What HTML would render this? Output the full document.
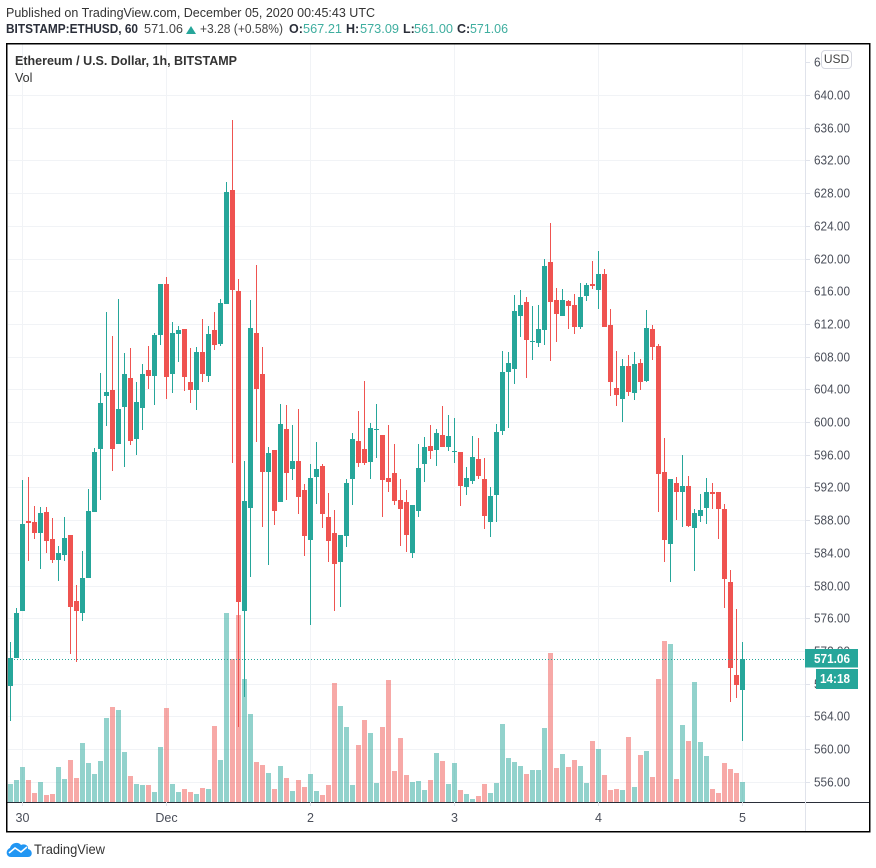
<!DOCTYPE html>
<html lang="en">
<head>
<meta charset="utf-8">
<title>Ethereum / U.S. Dollar, 1h, BITSTAMP</title>
<style>
html,body{margin:0;padding:0;background:#fff;width:876px;height:868px;overflow:hidden}
svg{display:block;font-family:"Liberation Sans",sans-serif}
</style>
</head>
<body>
<svg id="chart" width="876" height="868" viewBox="0 0 876 868" xmlns="http://www.w3.org/2000/svg">
  <rect x="0" y="0" width="876" height="868" fill="#ffffff"/>
  <g id="grid"></g>
  <g id="vols"></g>
  <g id="candles"></g>
  <line id="lastLine" x1="8" x2="805" stroke="#26a69a" stroke-width="1" stroke-dasharray="1 2"/>
  <line x1="7" x2="870" y1="802.5" y2="802.5" stroke="#2a2e39" stroke-width="1"/>
  <line x1="805.5" x2="805.5" y1="44" y2="832" stroke="#e0e3eb" stroke-width="1"/>
  <g id="priceAxis"></g>
  <g id="timeAxis"></g>

  <text x="6" y="17" font-size="12.5" fill="#333" textLength="369" lengthAdjust="spacingAndGlyphs">Published on TradingView.com, December 05, 2020 00:45:43 UTC</text>
  <text x="6" y="33" font-size="12.5" font-weight="bold" fill="#2a2e39" textLength="132" lengthAdjust="spacingAndGlyphs">BITSTAMP:ETHUSD, 60</text>
  <text x="144" y="33" font-size="12.5" fill="#444" textLength="39" lengthAdjust="spacingAndGlyphs">571.06</text>
  <polygon points="186,34 196,34 191,26" fill="#26a69a"/>
  <text x="200" y="33" font-size="12.5" fill="#444" textLength="83" lengthAdjust="spacingAndGlyphs">+3.28 (+0.58%)</text>
  <text x="289" y="33" font-size="12.5" font-weight="bold" fill="#2a2e39">O:</text>
  <text x="303" y="33" font-size="12.5" fill="#3fae9f" textLength="39" lengthAdjust="spacingAndGlyphs">567.21</text>
  <text x="346" y="33" font-size="12.5" font-weight="bold" fill="#2a2e39">H:</text>
  <text x="360" y="33" font-size="12.5" fill="#3fae9f" textLength="39" lengthAdjust="spacingAndGlyphs">573.09</text>
  <text x="403" y="33" font-size="12.5" font-weight="bold" fill="#2a2e39">L:</text>
  <text x="414" y="33" font-size="12.5" fill="#3fae9f" textLength="39" lengthAdjust="spacingAndGlyphs">561.00</text>
  <text x="457" y="33" font-size="12.5" font-weight="bold" fill="#2a2e39">C:</text>
  <text x="470" y="33" font-size="12.5" fill="#3fae9f" textLength="38" lengthAdjust="spacingAndGlyphs">571.06</text>

  <text x="15" y="65" font-size="12.5" font-weight="bold" fill="#333" textLength="222" lengthAdjust="spacingAndGlyphs">Ethereum / U.S. Dollar, 1h, BITSTAMP</text>
  <text x="15" y="82" font-size="12.5" fill="#333">Vol</text>

  <g>
    <rect x="821.5" y="50.5" width="30" height="18" rx="3.5" fill="#fff" stroke="#d6d8e0"/>
    <text x="836.5" y="63" font-size="12" fill="#444" text-anchor="middle">USD</text>
  </g>

  <rect x="805" y="649" width="53" height="18.5" fill="#26a69a"/>
  <text x="850" y="663" font-size="12.5" font-weight="bold" fill="#fff" text-anchor="end" textLength="36" lengthAdjust="spacingAndGlyphs">571.06</text>
  <rect x="816" y="667.5" width="42" height="2" fill="#fff"/>
  <rect x="816" y="669" width="42" height="20" fill="#26a69a"/>
  <text x="850" y="683" font-size="12.5" font-weight="bold" fill="#fff" text-anchor="end" textLength="30" lengthAdjust="spacingAndGlyphs">14:18</text>

  <rect x="6.75" y="43.75" width="863" height="788" fill="none" stroke="#000" stroke-width="1.5"/>

  <g>
    <path d="M11 857 C6 857 5 850 10 848 C11 843 18 841 21 845 C25 843 29 846 28 849 C33 850 33 857 28 857 Z" fill="#2196f3"/>
    <polyline points="9,853 15,848 21,852 27,847" fill="none" stroke="#fff" stroke-width="1.6"/>
    <text x="34" y="854" font-size="14" fill="#333" textLength="71" lengthAdjust="spacingAndGlyphs">TradingView</text>
  </g>
</svg>
<script>
const opens = [567.7,571.1,576.88,587.9,587.77,586.42,589.0,585.69,583.12,583.73,
586.18,578.1,576.64,580.92,589.0,596.7,603.18,603.92,597.31,601.84,
605.33,597.95,601.7,606.32,605.62,610.7,616.93,605.87,610.82,611.44,
604.96,603.89,608.63,605.62,611.32,609.54,614.41,628.4,616.06,576.9,
589.49,610.95,605.83,593.86,596.59,590.23,599.15,594.27,595.24,591.7,
585.59,593.29,594.63,588.4,586.45,582.91,586.08,593.04,597.69,596.71,
595.12,599.15,598.42,593.17,593.78,590.48,590.23,584.0,589.14,594.88,
597.08,596.59,598.42,596.95,596.4,596.34,592.07,592.8,595.49,593.04,
587.79,591.09,598.94,606.13,606.5,612.96,614.66,609.8,609.67,611.25,
619.53,614.9,612.96,614.78,614.3,611.62,615.39,616.85,616.12,618.07,
611.86,604.18,602.84,606.86,603.57,607.23,605.04,611.43,609.35,593.93,
585.12,592.59,591.48,592.22,587.08,588.55,589.53,591.48,591.48,589.41,
580.47,569.1,567.21];
const closes = [571.1,576.64,587.53,587.65,586.42,588.87,585.45,583.12,583.98,585.81,
577.37,576.88,580.92,589.12,596.33,602.33,603.67,596.7,601.59,605.88,
597.7,602.4,605.83,605.62,610.7,616.93,605.5,610.95,611.32,605.5,
603.89,608.63,605.83,610.82,609.42,614.62,628.16,616.1,578.0,590.4,
611.56,604.01,593.86,596.17,589.14,599.76,593.78,595.24,590.85,586.08,
593.17,594.27,588.77,585.47,582.66,586.2,592.56,597.93,595.0,595.0,
599.27,599.2,592.92,592.68,590.36,589.38,586.2,589.87,594.39,596.95,
596.46,598.66,596.95,598.3,596.47,592.19,593.17,595.73,593.41,588.52,
590.97,598.79,606.13,607.23,613.56,614.3,610.03,609.87,611.37,619.05,
614.66,613.2,614.9,614.17,611.62,615.27,616.73,616.61,618.07,611.62,
604.91,603.33,606.86,603.7,607.11,604.91,611.55,609.22,593.69,585.61,
593.07,591.48,592.22,587.32,588.92,589.28,591.48,591.24,589.41,580.84,
569.95,567.78,571.06];
const highs = [573.05,577.25,592.91,593.28,589.73,589.6,589.6,588.26,584.83,588.38,
586.18,580.06,584.22,591.81,596.82,606.0,613.46,610.53,615.05,608.45,
609.0,604.84,607.07,609.25,610.95,616.93,617.8,612.18,611.81,611.44,
609.0,609.13,612.56,611.81,613.5,615.0,629.39,637.0,617.55,595.22,
614.87,619.24,609.13,596.91,596.59,602.21,602.08,599.64,601.6,592.43,
594.88,597.56,594.88,591.33,589.26,586.2,593.04,598.66,601.35,605.02,
599.89,602.21,598.42,599.64,597.32,593.04,591.7,589.87,597.32,598.17,
599.64,599.15,601.96,600.86,600.5,596.34,594.51,598.3,598.05,595.61,
592.07,599.76,608.69,608.57,615.51,616.12,615.27,614.17,614.3,619.9,
624.29,616.37,616.25,614.9,615.64,616.97,616.97,619.66,620.87,618.68,
613.81,608.69,607.72,608.2,608.57,607.72,613.69,611.92,609.6,598.09,
593.07,593.32,596.0,593.44,589.41,591.24,593.2,592.59,591.48,590.02,
581.94,577.17,573.09];
const lows = [563.4,571.1,576.88,583.0,585.69,582.02,583.98,582.75,580.55,583.0,
571.62,570.64,575.66,580.92,589.0,590.46,599.5,594.0,597.31,594.5,
597.2,595.96,599.02,604.01,602.03,609.42,602.77,603.56,607.4,603.77,
602.32,601.45,604.96,604.96,608.8,609.3,614.41,594.97,562.7,566.36,
581.03,597.53,587.13,582.51,587.43,590.23,590.48,592.92,588.77,583.64,
575.21,589.99,587.06,582.91,576.92,577.41,584.74,589.87,594.51,594.75,
593.04,595.61,588.4,591.46,589.87,584.86,584.13,583.39,588.4,592.68,
595.49,594.63,596.95,596.46,595.0,589.75,591.09,592.43,593.04,586.94,
585.96,587.79,598.46,599.31,604.67,610.4,605.4,607.59,609.18,609.42,
607.47,609.79,612.96,611.37,610.76,611.37,614.78,616.25,613.81,611.62,
603.21,601.99,600.04,603.21,602.72,603.94,604.91,607.63,589.04,582.92,
580.47,588.06,587.2,587.2,581.82,587.81,587.57,589.41,585.73,577.29,
565.79,566.28,561.0];
const volumes = [18,22,35,22,9,20,7,8,35,23,
42,24,59,39,28,41,84,95,92,50,
26,18,17,17,10,55,94,18,10,13,
10,8,14,13,76,42,189,143,187,123,
88,40,37,29,13,36,24,11,22,15,
28,11,7,17,119,96,75,17,57,82,
69,19,75,122,31,64,27,20,21,12,
22,49,41,18,39,12,8,3,6,18,
9,19,78,44,40,36,28,32,32,74,
149,34,48,35,42,36,19,61,53,27,
12,13,12,65,15,47,51,25,123,161,
158,23,77,61,120,60,46,13,9,39,
33,29,20];
const priceTicks = [644,640,636,632,628,624,620,616,612,608,604,600,596,592,588,584,580,576,572,568,564,560,556];
const timeTickLabels = ["30","Dec","2","3","4","5"];
const timeTickBars = [2,26,50,74,98,122];
const lastPrice = 571.06;

const NS = "http://www.w3.org/2000/svg";
const UP = "#26a69a", DOWN = "#ef5350";
const UP_VOL = "rgba(38,166,154,0.5)", DOWN_VOL = "rgba(239,83,80,0.5)";
function xBar(i){ return 10.5 + 6 * i; }
function yPrice(p){ return 781.7 - (p - 556) * 8.174; }
function yVol(v){ return 802 - v; }
function make(tag, attrs, parent){
  const el = document.createElementNS(NS, tag);
  for (const k in attrs) el.setAttribute(k, attrs[k]);
  parent.appendChild(el);
  return el;
}
const gridG = document.getElementById("grid");
const volG = document.getElementById("vols");
const candleG = document.getElementById("candles");
const priceG = document.getElementById("priceAxis");
const timeG = document.getElementById("timeAxis");

priceTicks.forEach(function(p){
  const y = Math.round(yPrice(p)) + 0.5;
  if (p !== 644) {
    const g = make("line", {x1:8, x2:805, y1:y, y2:y, stroke:"#f1f3f6", "stroke-width":1}, gridG);
    
    
  }
  const t = make("line", {x1:805, x2:810, y1:y, y2:y, stroke:"#e0e3eb", "stroke-width":1}, priceG);
  
  
  const lbl = make("text", {x:814, y:y + 4, "font-size":12.5, fill:"#4a4e59", textLength:36, lengthAdjust:"spacingAndGlyphs"}, priceG);
  
  
  lbl.textContent = p.toFixed(2);
});

timeTickBars.forEach(function(b, k){
  const x = xBar(b) + 0;
  const g = make("line", {x1:x, x2:x, y1:44, y2:802, stroke:"#f1f3f6", "stroke-width":1}, gridG);
  
  
  const t = make("line", {x1:x, x2:x, y1:802, y2:806, stroke:"#e0e3eb", "stroke-width":1}, timeG);
  
  
  const lbl = make("text", {x:x, y:822, "font-size":12.5, fill:"#4a4e59", "text-anchor":"middle"}, timeG);
  
  
  lbl.textContent = timeTickLabels[k];
});

volumes.forEach(function(v, i){
  const up = closes[i] >= opens[i];
  const top = Math.round(yVol(v));
  const r = make("rect", {x:xBar(i) - 2.5, y:top, width:5, height:802 - top, fill: up ? UP_VOL : DOWN_VOL, "shape-rendering":"crispEdges"}, volG);
  
  
});

opens.forEach(function(o, i){
  const c = closes[i], up = c >= o, col = up ? UP : DOWN, x = xBar(i);
  const wick = make("line", {x1:x, x2:x, y1:Math.round(yPrice(highs[i])), y2:Math.round(yPrice(lows[i])), stroke:col, "stroke-width":1, "shape-rendering":"crispEdges"}, candleG);
  
  
  const top = Math.round(yPrice(Math.max(o, c)));
  const bot = Math.round(yPrice(Math.min(o, c)));
  const body = make("rect", {x:x - 2.5, y:top, width:5, height:Math.max(1, bot - top), fill:col, "shape-rendering":"crispEdges"}, candleG);
  
  
});

const ll = document.getElementById("lastLine");
const ly = Math.round(yPrice(lastPrice)) + 0.5;
ll.setAttribute("y1", ly);
ll.setAttribute("y2", ly);
</script>
</body>
</html>
